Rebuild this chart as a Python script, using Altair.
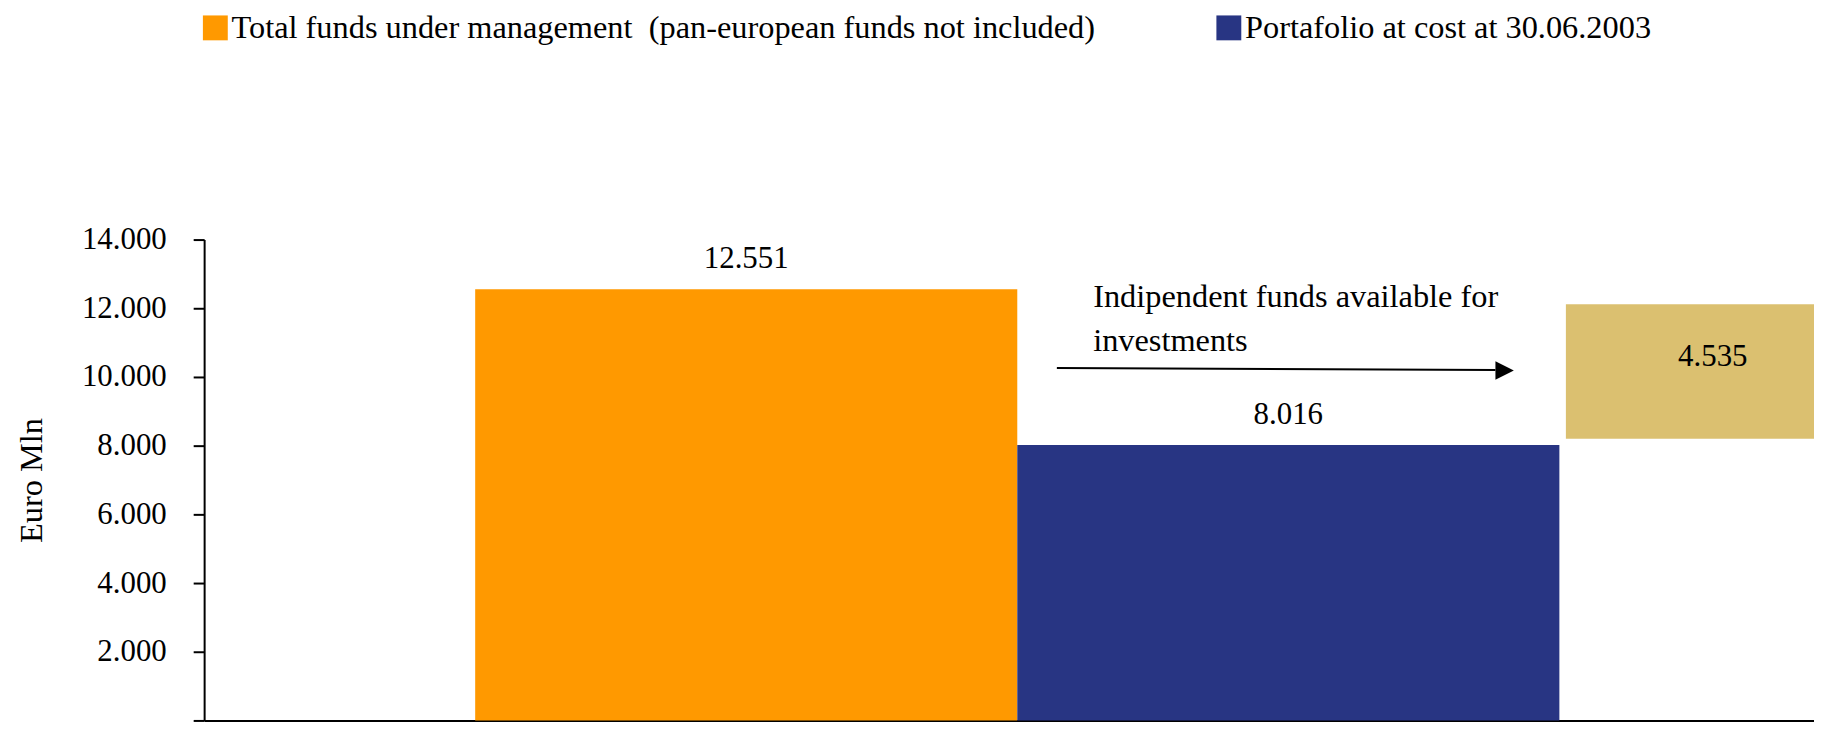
import altair as alt
import pandas as pd

FONT = "Liberation Serif"

# ---- data ----
series_names = [
    "Total funds under management \u00a0(pan-european funds not included)",
    "Portafolio at cost at 30.06.2003",
]
series_values = [12551, 8016]
series_positions = [1, 2]          # category slots along the x axis
series_colors = ["#FF9900", "#283583"]

available_value = [4535]
available_box_low = [8203]
available_box_high = [12116]
available_box_start = [2.512]
available_box_end = [3.5]
available_label_pos = [2.783]
available_label_y = [10319]
available_color = "#DBC070"

annotation_lines = ["Indipendent funds available for", "investments"]
annotation_pos = [1.640]
annotation_y = [12029]
arrow_x_start = [1.573]
arrow_x_end = [2.382]
arrow_y_start = [10261]
arrow_y_end = [10203]
arrowhead_pos = [2.399]
arrowhead_y = [10188]

y_ticks = [0, 2000, 4000, 6000, 8000, 10000, 12000, 14000]

# ---- tables ----
bars_df = pd.DataFrame({"series": series_names, "value": series_values, "pos": series_positions})
box_df = pd.DataFrame({
    "value": available_value, "low": available_box_low, "high": available_box_high,
    "start": available_box_start, "end": available_box_end,
    "lpos": available_label_pos, "ly": available_label_y,
})
ann_df = pd.DataFrame({"text": ["\n".join(annotation_lines)], "pos": annotation_pos, "y": annotation_y})
arrow_df = pd.DataFrame({"x0": arrow_x_start, "x1": arrow_x_end, "y0": arrow_y_start, "y1": arrow_y_end})
head_df = pd.DataFrame({"x": arrowhead_pos, "y": arrowhead_y})

xscale = alt.Scale(domain=[0, 4], range=[0, 2178], nice=False, zero=False)
yscale = alt.Scale(domain=[0, 14000], nice=False)
xaxis = alt.Axis(labels=False, ticks=False, grid=False, title=None,
                 domainColor="black", domainWidth=2)
yaxis = alt.Axis(values=y_ticks, grid=False, title="Euro Mln",
                 labelExpr="datum.value == 0 ? '' : replace(format(datum.value, ',.0f'), ',', '.')",
                 labelFont=FONT, labelFontSize=31, labelColor="black", labelPadding=27,
                 tickSize=11, tickWidth=2, tickColor="black",
                 domainColor="black", domainWidth=2,
                 titleFont=FONT, titleFontSize=32.5, titleFontWeight="normal", titleColor="black",
                 titleAngle=-90, titleX=-163, titleY=241.5, titleAlign="center",
                 titleBaseline="alphabetic")


def X(field):
    return alt.X(field, type="quantitative", scale=xscale, axis=xaxis)


def Y(field):
    return alt.Y(field, type="quantitative", scale=yscale, axis=yaxis)


bars = alt.Chart(bars_df).transform_calculate(
    x0="datum.pos - 0.5", x1="datum.pos + 0.5"
).mark_rect().encode(
    x=X("x0"), x2=alt.X2("x1"),
    y=Y("value"), y2=alt.Y2(datum=0),
    color=alt.Color("series:N",
                    scale=alt.Scale(domain=series_names, range=series_colors),
                    legend=alt.Legend(title=None, orient="none", legendX=-5, legendY=-229,
                                      direction="horizontal", symbolType="square",
                                      symbolSize=625, symbolStrokeWidth=0, symbolOpacity=1,
                                      labelFont=FONT, labelFontSize=32.5, labelColor="black",
                                      labelOffset=0, columnPadding=117, labelLimit=2000,
                                      padding=0)),
)

bar_labels = alt.Chart(bars_df).transform_calculate(
    label="replace(format(datum.value, ',.0f'), ',', '.')"
).mark_text(font=FONT, fontSize=31, color="black", baseline="alphabetic", dy=-21).encode(
    x=X("pos"), y=Y("value"), text="label:N"
)

box = alt.Chart(box_df).mark_rect(color=available_color).encode(
    x=X("start"), x2=alt.X2("end"), y=Y("low"), y2=alt.Y2("high")
)

box_label = alt.Chart(box_df).transform_calculate(
    label="replace(format(datum.value, ',.0f'), ',', '.')"
).mark_text(font=FONT, fontSize=31, color="black", baseline="alphabetic").encode(
    x=X("lpos"), y=Y("ly"), text="label:N"
)

ann = alt.Chart(ann_df).mark_text(font=FONT, fontSize=32.5, color="black", align="left",
                                  baseline="alphabetic", lineBreak="\n", lineHeight=44).encode(
    x=X("pos"), y=Y("y"), text="text:N"
)

arrow = alt.Chart(arrow_df).mark_rule(color="black", strokeWidth=2).encode(
    x=X("x0"), x2=alt.X2("x1"), y=Y("y0"), y2=alt.Y2("y1")
)

head = alt.Chart(head_df).mark_point(shape="M-1,-1L1,0L-1,1Z", filled=True, size=342,
                                     color="black", opacity=1).encode(
    x=X("x"), y=Y("y")
)

chart = alt.layer(bars, bar_labels, box, box_label, ann, arrow, head).properties(
    width=1617, height=483,
    background="white",
    autosize=alt.AutoSizeParams(type="none"),
    padding={"left": 197, "top": 231, "right": 0, "bottom": 7},
).configure_view(strokeWidth=0, stroke="transparent")

chart.save("out.html", embed_options={"renderer": "svg", "actions": False})
